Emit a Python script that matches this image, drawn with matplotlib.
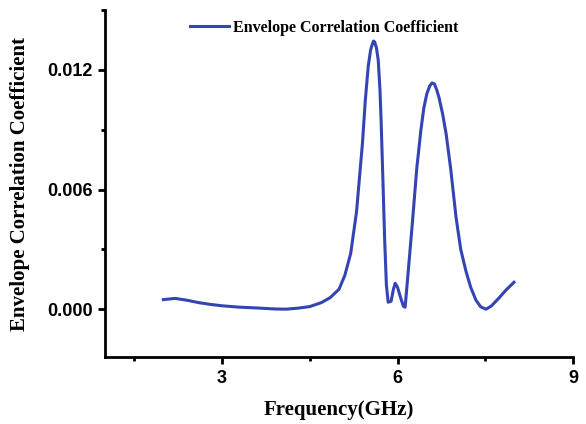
import numpy as np
import matplotlib.pyplot as plt
from matplotlib.ticker import MultipleLocator

# ECC values
freq = [2.0, 2.2, 2.4, 2.6, 2.8, 3.0, 3.3, 3.6, 3.9, 4.1, 4.3, 4.5, 4.7, 4.85,
        5.0, 5.1, 5.2, 5.3, 5.4, 5.45, 5.5, 5.54, 5.57, 5.59, 5.61, 5.64, 5.67,
        5.70, 5.72, 5.75, 5.78, 5.81, 5.84, 5.89, 5.93, 5.96, 6.0, 6.05, 6.1,
        6.13, 6.18, 6.25, 6.33, 6.40, 6.45, 6.50, 6.55, 6.59, 6.63, 6.67, 6.71,
        6.77, 6.83, 6.91, 7.0, 7.08, 7.17, 7.25, 7.34, 7.42, 7.51, 7.6, 7.73,
        7.86, 7.99]
ecc = [0.00048, 0.00054, 0.00045, 0.00033, 0.00024, 0.00017, 0.0001, 0.00006,
       0.00001, 0.0, 0.00005, 0.00013, 0.00033, 0.00058, 0.001, 0.0017, 0.0028,
       0.0049, 0.0083, 0.0105, 0.0122, 0.0130, 0.0133, 0.01345, 0.0134, 0.0131,
       0.0125, 0.0110, 0.0094, 0.0065, 0.0035, 0.0012, 0.00035, 0.0004, 0.0010,
       0.0013, 0.0011, 0.0006, 0.00015, 0.0001, 0.0018, 0.0042, 0.0071, 0.0090,
       0.0101, 0.0108, 0.0112, 0.01135, 0.0113, 0.0110, 0.0106, 0.0098, 0.0088,
       0.0070, 0.0046, 0.0030, 0.0019, 0.0011, 0.00045, 0.00012, 0.0, 0.00015,
       0.00055, 0.00098, 0.00135]

xticks = [3, 6, 9]
yticks = [0.0, 0.006, 0.012]
ytick_labels = ["0.000", "0.006", "0.012"]

fig = plt.figure(figsize=(5.86, 4.24), dpi=100)
ax = fig.add_axes([0.179, 0.158, 0.799, 0.818])

ax.plot(freq, ecc, color='#3444b4', linewidth=2.2,
        label='Envelope Correlation Coefficient')

ax.set_xlim(1, 9)
ax.set_ylim(-0.0024, 0.015)
ax.set_xticks(xticks)
ax.set_yticks(yticks)
ax.set_yticklabels(ytick_labels)
ax.xaxis.set_minor_locator(MultipleLocator(1.5))
ax.yaxis.set_minor_locator(MultipleLocator(0.003))

for s in ['top', 'right']:
    ax.spines[s].set_visible(False)
for s in ['left', 'bottom']:
    ax.spines[s].set_linewidth(2)

ax.tick_params(which='major', direction='out', length=5, width=2, pad=4)
ax.tick_params(which='minor', direction='out', length=3, width=2)
for lab in ax.get_xticklabels() + ax.get_yticklabels():
    lab.set_fontfamily('Liberation Sans')
    lab.set_fontweight('bold')
    lab.set_fontsize(13)

ax.set_xlabel('Frequency(GHz)', fontfamily='Liberation Serif', fontweight='bold',
              fontsize=15, labelpad=10)
ax.set_ylabel('Envelope Correlation Coefficient', fontfamily='Liberation Serif',
              fontweight='bold', fontsize=15, labelpad=12)

leg = ax.legend(loc='upper left', bbox_to_anchor=(0.162, 1.0), frameon=False,
                prop={'family': 'Liberation Serif', 'weight': 'bold', 'size': 11.5},
                handlelength=2.4, handletextpad=0.3, borderaxespad=0.2)

fig.savefig('out.png', dpi=100)
